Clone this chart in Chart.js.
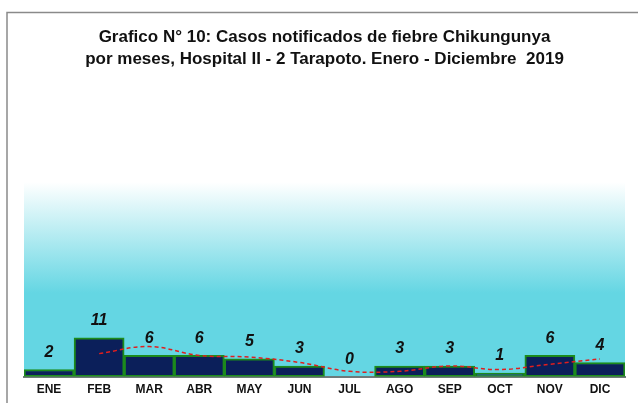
<!DOCTYPE html>
<html>
<head>
<meta charset="utf-8">
<script src="https://cdn.jsdelivr.net/npm/chart.js@4"></script>
<style>
html,body{margin:0;padding:0;background:#fff;}
#wrap{width:638px;height:403px;position:relative;}
</style>
</head>
<body>
<div id="wrap"><canvas id="c" width="638" height="403"></canvas></div>
<script>
const titleLines = ["Grafico N° 10: Casos notificados de fiebre Chikungunya", "por meses, Hospital II - 2 Tarapoto. Enero - Diciembre  2019"];
const months = ["ENE","FEB","MAR","ABR","MAY","JUN","JUL","AGO","SEP","OCT","NOV","DIC"];
const cases = [2, 11, 6, 6, 5, 3, 0, 3, 3, 1, 6, 4];
const trend = [null, 6.5, 8.5, 6, 5.5, 4, 1.5, 1.5, 3, 2, 3.5, 5];

const framePlugin = {
  id: 'frame',
  beforeDraw(chart) {
    const ctx = chart.ctx;
    const a = chart.chartArea;
    ctx.save();
    ctx.fillStyle = '#fff';
    ctx.fillRect(0, 0, chart.width, chart.height);
    const g = ctx.createLinearGradient(0, a.top, 0, a.bottom);
    g.addColorStop(0, '#ffffff');
    g.addColorStop(0.57, '#64d6e3');
    g.addColorStop(1, '#64d6e3');
    ctx.fillStyle = g;
    ctx.fillRect(a.left, a.top, a.right - a.left, a.bottom - a.top);
    ctx.strokeStyle = '#8a8a8a';
    ctx.lineWidth = 1.5;
    ctx.beginPath();
    ctx.moveTo(7, chart.height + 5);
    ctx.lineTo(7, 12.5);
    ctx.lineTo(chart.width + 5, 12.5);
    ctx.stroke();
    ctx.restore();
  }
};

const labelPlugin = {
  id: 'vals',
  afterDatasetsDraw(chart) {
    const ctx = chart.ctx;
    const meta = chart.getDatasetMeta(1);
    ctx.save();
    ctx.font = 'italic bold 16px "Liberation Sans", Arial, sans-serif';
    ctx.fillStyle = '#111';
    ctx.textAlign = 'center';
    ctx.textBaseline = 'middle';
    meta.data.forEach((bar, i) => {
      ctx.fillText(String(cases[i]), bar.x, bar.y - 17);
    });
    ctx.restore();
  }
};

new Chart(document.getElementById('c'), {
  data: {
    labels: months,
    datasets: [
      {
        type: 'line',
        data: trend,
        borderColor: '#e01e1e',
        borderWidth: 1.5,
        borderDash: [4, 3],
        pointRadius: 0,
        tension: 0.4,
        fill: false,
        spanGaps: false,
        order: 0
      },
      {
        type: 'bar',
        data: cases,
        backgroundColor: '#0b1f5a',
        borderColor: '#1c8a1c',
        borderWidth: 2,
        borderSkipped: false,
        barPercentage: 1,
        categoryPercentage: 1,
        order: 1
      }
    ]
  },
  options: {
    responsive: false,
    animation: false,
    events: [],
    layout: { padding: { left: 24, right: 13, top: 0, bottom: 0 } },
    plugins: {
      legend: { display: false },
      tooltip: { enabled: false },
      title: {
        display: true,
        text: titleLines,
        color: '#111',
        font: { family: '"Liberation Sans", Arial, sans-serif', size: 17, weight: 'bold', lineHeight: 1.3 },
        padding: { top: 26, bottom: 112 }
      }
    },
    scales: {
      x: {
        grid: { display: false, drawTicks: false, tickLength: 0 },
        border: { display: true, color: '#6e7a7a', width: 2 },
        ticks: {
          color: '#111',
          padding: 6,
          font: { family: '"Liberation Sans", Arial, sans-serif', size: 12, weight: 'bold' }
        }
      },
      y: {
        display: false,
        min: 0,
        max: 55
      }
    }
  },
  plugins: [framePlugin, labelPlugin]
});
</script>
</body>
</html>
